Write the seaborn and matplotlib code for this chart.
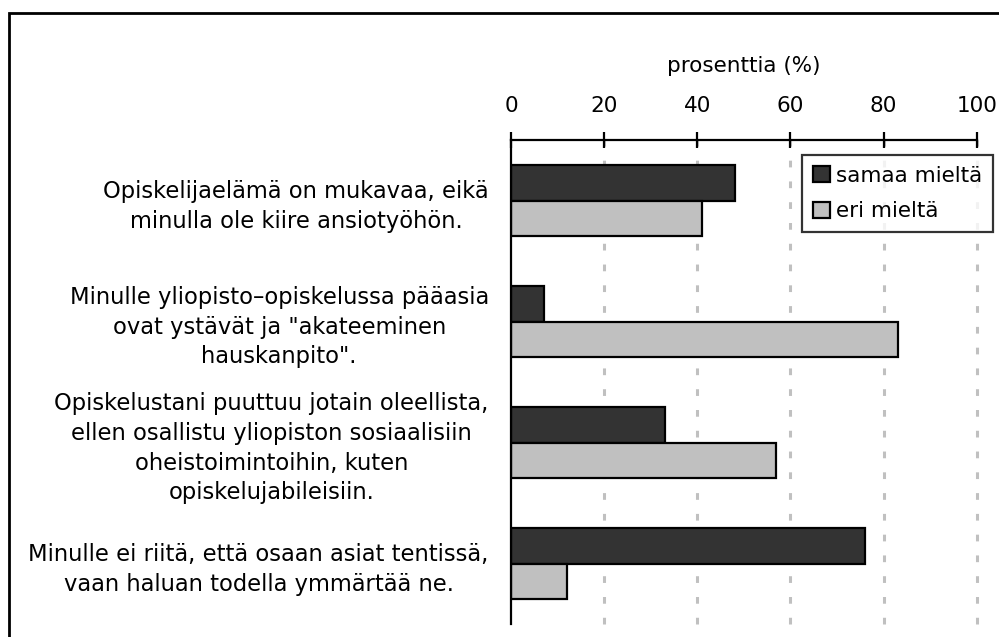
import matplotlib
matplotlib.use("Agg")
import matplotlib.pyplot as plt
import seaborn as sns
import pandas as pd
from matplotlib.patches import Rectangle

categories = [
    "Opiskelijaelämä on mukavaa, eikä\nminulla ole kiire ansiotyöhön.",
    "Minulle yliopisto–opiskelussa pääasia\novat ystävät ja \"akateeminen\nhauskanpito\".",
    "Opiskelustani puuttuu jotain oleellista,\nellen osallistu yliopiston sosiaalisiin\noheistoimintoihin, kuten\nopiskelujabileisiin.",
    "Minulle ei riitä, että osaan asiat tentissä,\nvaan haluan todella ymmärtää ne.",
]
series_names = ["samaa mieltä", "eri mieltä"]
samaa = [48, 7, 33, 76]
eri = [41, 83, 57, 12]
x_ticks = [0, 20, 40, 60, 80, 100]
x_label = "prosenttia (%)"

df = pd.DataFrame({
    "kategoria": categories * 2,
    "sarja": [series_names[0]] * 4 + [series_names[1]] * 4,
    "arvo": samaa + eri,
})

sns.set_theme(style="white")
plt.rcParams["font.family"] = ["DejaVu Sans"]
plt.rcParams["text.color"] = "black"
plt.rcParams["axes.labelcolor"] = "black"
plt.rcParams["xtick.color"] = "black"
plt.rcParams["ytick.color"] = "black"

fig = plt.figure(figsize=(9.99, 6.37), dpi=100)
ax = fig.add_axes([511 / 999, 1 - 624 / 637, (976.7 - 511) / 999, (624 - 140) / 637])

sns.barplot(data=df, x="arvo", y="kategoria", hue="sarja", orient="h",
            palette=["#333333", "#c0c0c0"], width=0.58, gap=0,
            edgecolor="black", linewidth=1.6, ax=ax, order=categories,
            hue_order=series_names, saturation=1)

ax.set_xlim(0, 100)
ax.set_ylim(3.5, -0.5)
ax.xaxis.tick_top()
ax.xaxis.set_label_position("top")
ax.set_xticks(x_ticks)
ax.set_xticklabels([str(t) for t in x_ticks], fontsize=15.5)
ax.set_xlabel(x_label, fontsize=15.5, labelpad=17)
ax.set_ylabel("")

ax.set_yticks([0, 1, 2, 3])
ax.set_yticklabels(categories, fontsize=16.3, multialignment="center", linespacing=1.37)
ax.tick_params(axis="y", which="major", length=0, pad=16)
ax.set_yticks([-0.5, 0.5, 1.5, 2.5, 3.5], minor=True)
ax.tick_params(axis="y", which="minor", length=9, width=1.6, direction="out", color="black")
ax.tick_params(axis="x", which="major", length=11, width=1.6, direction="inout",
               color="black", pad=12, top=True, bottom=False)

for s in ["right", "bottom"]:
    ax.spines[s].set_visible(False)
for s in ["left", "top"]:
    ax.spines[s].set_color("black")
    ax.spines[s].set_linewidth(1.6)

for t in x_ticks[1:]:
    ax.axvline(t, color="#c0c0c0", linestyle=(0, (2.2, 4.6)), linewidth=2.2,
               zorder=0, clip_on=False)

leg = ax.legend(loc="upper left", bbox_to_anchor=((802 - 511) / 465.7, 1 - 15 / 484),
                fontsize=15.5, frameon=True, fancybox=False, shadow=False,
                handlelength=0.8, handleheight=0.75, handletextpad=0.3,
                borderpad=0.5, labelspacing=0.72, borderaxespad=0)
leg.get_frame().set_edgecolor("black")
leg.get_frame().set_linewidth(1.6)
leg.set_zorder(5)
for h in leg.legend_handles:
    h.set_edgecolor("black")
    h.set_linewidth(1.6)

fig.patches.append(Rectangle((9 / 999, -0.1), 1.2, 0.1 + 1 - 13 / 637,
                             transform=fig.transFigure, fill=False,
                             edgecolor="black", linewidth=2, clip_on=False))

fig.savefig("out.png", dpi=100)
